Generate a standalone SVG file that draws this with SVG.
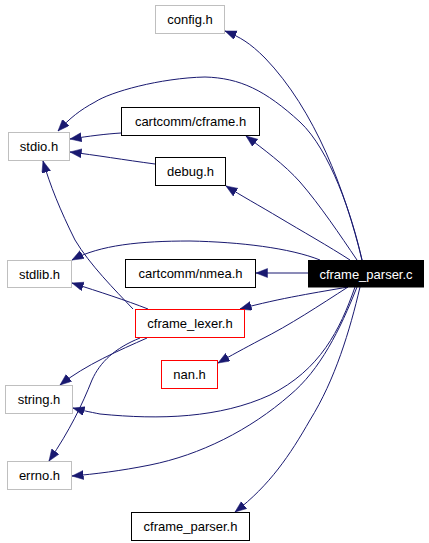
<svg xmlns="http://www.w3.org/2000/svg" width="429" height="543" viewBox="0 0 429 543">
<style>
.e{fill:none;stroke:#191970;stroke-width:1;marker-end:url(#ah)}
.n rect{fill:#ffffff;stroke:#000000;stroke-width:1}
.g rect{stroke:#bfbfbf}
.r rect{stroke:#ff0000}
.n text{font-family:"Liberation Sans",Arial,sans-serif;font-size:13px;text-anchor:middle;fill:#000000}
</style>
<defs>
<marker id="ah" markerUnits="userSpaceOnUse" markerWidth="12" markerHeight="10" refX="11.5" refY="4.5" orient="auto">
<path d="M0,0 L11.5,4.5 L0,9 z" fill="#191970" stroke="#191970" stroke-width="0.5"/>
</marker>
</defs>
<rect x="0" y="0" width="429" height="543" fill="#ffffff"/>
<g id="connectors">
<path class="e" d="M362,260 C345,190 315,110 265,58 C250,43 240,37 225,31"/>
<path class="e" d="M362,260 C352,215 330,150 300,122 C265,90 240,78 205,77 C160,78 110,92 95,102 C80,110 70,118 58,131"/>
<path class="e" d="M357,260 C340,235 320,205 300,182 C285,165 262,148 246,136"/>
<path class="e" d="M350,260 C330,247 300,230 280,218 C260,206 240,195 226,186"/>
<path class="e" d="M320,260 C290,248 240,242 190,241 C140,241 100,245 72,260"/>
<path class="e" d="M308,273 L256,273"/>
<path class="e" d="M348,287 C320,292 280,298 240,309"/>
<path class="e" d="M348,287 C320,305 290,325 260,340 C245,348 230,356 218,363"/>
<path class="e" d="M355,287 C340,330 320,370 270,395 C220,418 160,420 100,414 C90,412 80,410 73,408"/>
<path class="e" d="M357,287 C340,330 320,370 290,395 C250,430 200,455 150,465 C120,471 95,474 72,476"/>
<path class="e" d="M360,287 C350,330 335,380 310,420 C290,455 270,485 235,512"/>
<path class="e" d="M133,309 C115,290 90,265 75,240 C60,210 50,185 43,161"/>
<path class="e" d="M148,309 C125,300 100,292 72,283"/>
<path class="e" d="M147,338 C120,350 85,365 60,385"/>
<path class="e" d="M140,338 C115,348 100,362 92,380 C82,405 70,430 49,461"/>
<path class="e" d="M121,133 C105,134 90,136 70,139"/>
<path class="e" d="M155,164 C125,160 95,155 70,152"/>
</g>
<g id="config_h" class="n g"><rect x="155.5" y="5.5" width="69" height="28"/><text x="190" y="24">config.h</text></g>
<g id="stdio_h" class="n g"><rect x="8.5" y="132.5" width="61" height="28"/><text x="39" y="151">stdio.h</text></g>
<g id="cartcomm_cframe_h" class="n"><rect x="121.5" y="107.5" width="138" height="28"/><text x="190.5" y="126">cartcomm/cframe.h</text></g>
<g id="debug_h" class="n"><rect x="155.5" y="157.5" width="70" height="28"/><text x="190.5" y="176">debug.h</text></g>
<g id="stdlib_h" class="n g"><rect x="7.5" y="260.5" width="64" height="27"/><text x="39.5" y="278.5">stdlib.h</text></g>
<g id="cartcomm_nmea_h" class="n"><rect x="125.5" y="259.5" width="130" height="28"/><text x="190.5" y="278">cartcomm/nmea.h</text></g>
<g id="cframe_parser_c"><rect x="308" y="260" width="116" height="27.5" fill="#000000"/><text x="366" y="278.5" font-family="'Liberation Sans',Arial,sans-serif" font-size="13" text-anchor="middle" fill="#ffffff">cframe_parser.c</text></g>
<g id="cframe_lexer_h" class="n r"><rect x="135.5" y="309.5" width="109" height="28"/><text x="190" y="328">cframe_lexer.h</text></g>
<g id="nan_h" class="n r"><rect x="161.5" y="360.5" width="56" height="28"/><text x="189.5" y="379">nan.h</text></g>
<g id="string_h" class="n g"><rect x="5.5" y="385.5" width="67" height="28"/><text x="39" y="404">string.h</text></g>
<g id="errno_h" class="n g"><rect x="7.5" y="461.5" width="64" height="28"/><text x="39.5" y="480">errno.h</text></g>
<g id="cframe_parser_h" class="n"><rect x="131.5" y="512.5" width="118" height="28"/><text x="190.5" y="531">cframe_parser.h</text></g>
</svg>
